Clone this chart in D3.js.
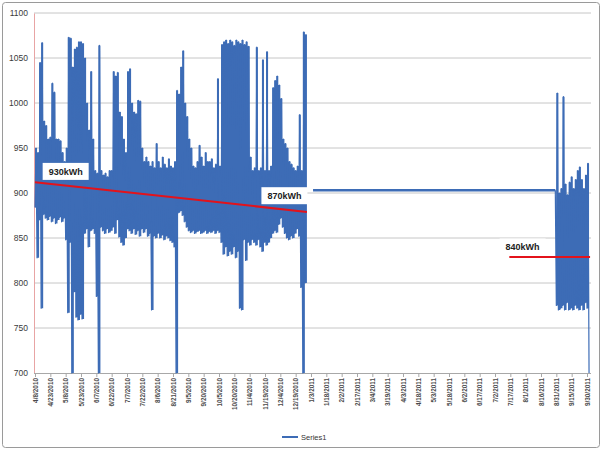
<!DOCTYPE html>
<html>
<head>
<meta charset="utf-8">
<script src="https://cdn.jsdelivr.net/npm/d3@7"></script>
<style>
  body { margin: 0; background: #fff; }
  svg { display: block; font-family: "Liberation Sans", Arial, sans-serif; }
</style>
</head>
<body>
<svg id="chart" width="604" height="454"></svg>
<script>
// tick labels on the date axis (every 15 days)
const tickLabels = ["4/8/2010","4/23/2010","5/8/2010","5/23/2010","6/7/2010","6/22/2010","7/7/2010",
  "7/22/2010","8/6/2010","8/21/2010","9/5/2010","9/20/2010","10/5/2010","10/20/2010","11/4/2010",
  "11/19/2010","12/4/2010","12/19/2010","1/3/2011","1/18/2011","2/2/2011","2/17/2011","3/4/2011",
  "3/19/2011","4/3/2011","4/18/2011","5/3/2011","5/18/2011","6/2/2011","6/17/2011","7/2/2011",
  "7/17/2011","8/1/2011","8/16/2011","8/31/2011","9/15/2011","9/30/2011"];
const yTicks = [700, 750, 800, 850, 900, 950, 1000, 1050, 1100];

// first block: 2-day bins starting 4/8/2010, low / high readings per bin
const seg1Start = "4/8/2010";
const seg1Hi = [950,945,1045,1067,980,975,960,962,1022,1012,960,960,958,945,935,950,1073,1072,1040,1060,
  1062,1068,1068,1066,1050,1000,970,1035,960,925,922,1064,925,920,922,918,925,925,1035,1030,
  1034,990,985,960,945,1035,1038,1000,990,988,1003,1002,950,935,940,935,930,935,928,955,
  935,928,940,932,928,938,930,928,935,1014,1010,1040,1058,1000,985,960,950,930,928,935,
  953,940,930,945,935,935,938,928,932,1027,930,1065,1068,1070,1066,1070,1068,1064,1070,1068,
  1066,1070,1065,1068,1063,940,925,928,1062,925,928,1048,925,1057,925,930,1017,1025,1030,1020,
  1005,960,955,950,935,932,928,925,930,987,925,1079,1076];
const seg1Lo = [884,828,870,772,876,872,870,874,868,872,866,870,873,868,872,848,767,845,700,790,
  762,759,765,760,855,860,840,858,860,855,785,700,862,858,855,860,856,858,862,855,
  870,851,845,842,850,860,858,855,860,854,858,852,860,856,860,852,855,770,852,850,
  855,850,853,848,852,850,847,845,840,700,878,880,875,868,862,858,856,858,855,857,
  858,855,856,858,855,857,856,858,855,858,856,845,832,840,830,835,832,840,828,835,
  772,770,848,825,845,842,848,845,842,848,840,835,845,842,845,850,855,858,856,865,
  872,862,855,850,848,852,850,855,860,852,795,700,800];

// missing period, plotted as a constant value
const flatDates = ["1/5/2011", "8/30/2011"];
const flatValue = 903;

// last block: 2-day bins starting 8/31/2011
const seg3Start = "8/31/2011";
const seg3Hi = [1011,900,905,1007,910,898,912,918,905,915,925,929,915,905,920,933];
const seg3Lo = [775,770,772,775,770,778,770,772,770,775,772,770,775,770,778,772];
const seg3End = {date: "10/2/2011", value: 700};

// trend lines and their labels
const trendA = [{date: "4/8/2010", value: 912}, {date: "12/30/2010", value: 879}];
const trendB = [{date: "7/16/2011", value: 829}, {date: "10/3/2011", value: 829}];
const notes = [
  {text: "930kWh", date: "5/8/2010", value: 924},
  {text: "870kWh", date: "12/8/2010", value: 897},
  {text: "840kWh", date: "7/29/2011", value: 840}
];

const parse = d3.timeParse("%m/%d/%Y");
const blue = "#3d6cb6";

function bins(startStr, lo, hi) {
  const s = parse(startStr);
  return lo.map((v, i) => ({date: d3.timeDay.offset(s, 2 * i), lo: v, hi: hi[i]}));
}
function zigzag(b) {
  const pts = [];
  b.forEach(d => {
    pts.push({date: d.date, value: d.lo});
    pts.push({date: d3.timeDay.offset(d.date, 1), value: d.hi});
  });
  return pts;
}

const bins1 = bins(seg1Start, seg1Lo, seg1Hi);
const bins3 = bins(seg3Start, seg3Lo, seg3Hi);
const seg1 = zigzag(bins1);
const seg3 = zigzag(bins3);
const flat = flatDates.map(d => ({date: parse(d), value: flatValue}));
const tail = [flat[1]].concat(seg3, [{date: parse(seg3End.date), value: seg3End.value}]);

const svg = d3.select("#chart");

svg.append("rect")
  .attr("x", 2.5).attr("y", 2.5)
  .attr("width", 597).attr("height", 445)
  .attr("rx", 3)
  .attr("fill", "#fff")
  .attr("stroke", "#9a9a9a");

const x = d3.scaleTime()
  .domain([parse(tickLabels[0]), parse(tickLabels[tickLabels.length - 1])])
  .range([35, 587]);
const y = d3.scaleLinear().domain([700, 1100]).range([373, 13]);
const plotLeft = 34, plotRight = 591;

// gridlines
svg.append("g")
  .selectAll("line")
  .data(yTicks.filter(d => d > 700))
  .join("line")
  .attr("x1", plotLeft).attr("x2", plotRight)
  .attr("y1", d => y(d)).attr("y2", d => y(d))
  .attr("stroke", "#c6c6c6").attr("stroke-width", 1);

// y axis
const yAxis = d3.axisLeft(y).tickValues(yTicks).tickFormat(d3.format("d")).tickSize(0).tickPadding(6);
const gy = svg.append("g").attr("transform", `translate(${plotLeft},0)`).call(yAxis);
gy.select(".domain").attr("stroke", "#e8a4a4");
gy.selectAll("text").attr("font-size", 8.5).attr("fill", "#3a3a3a");

// x axis
const xAxis = d3.axisBottom(x)
  .tickValues(tickLabels.map(parse))
  .tickFormat(d3.timeFormat("%-m/%-d/%Y"))
  .tickSize(4).tickSizeOuter(0);
const gx = svg.append("g").attr("transform", "translate(0,373)").call(xAxis);
gx.select(".domain").attr("d", `M${plotLeft},0.5H${plotRight}`).attr("stroke", "#a8a8a8");
gx.selectAll(".tick line").attr("stroke", "#a8a8a8");
gx.selectAll("text")
  .attr("font-size", 6.4)
  .attr("font-family", "'Liberation Sans Narrow', 'Liberation Sans', Arial, sans-serif")
  .attr("font-weight", "bold")
  .attr("fill", "#4a4a4a")
  .attr("text-anchor", "end")
  .attr("transform", "rotate(-90)")
  .attr("x", -5).attr("y", 0).attr("dy", "0.32em");

// series: dense readings drawn as a low/high band plus the zigzag trace
const band = d3.area()
  .x(d => x(d.date)).y0(d => y(d.lo)).y1(d => y(d.hi))
  .curve(d3.curveStepAfter);
const line = d3.line().x(d => x(d.date)).y(d => y(d.value));

[bins1, bins3].forEach(b => {
  const last = b[b.length - 1];
  const closed = b.concat([{date: d3.timeDay.offset(last.date, 2), lo: last.lo, hi: last.hi}]);
  svg.append("path").datum(closed)
    .attr("d", band).attr("fill", blue);
});
[seg1, tail].forEach(s => {
  svg.append("path").datum(s)
    .attr("d", line).attr("fill", "none")
    .attr("stroke", blue).attr("stroke-width", 1.2).attr("stroke-linejoin", "round");
});
svg.append("path").datum(flat)
  .attr("d", line).attr("fill", "none")
  .attr("stroke", blue).attr("stroke-width", 2.4);

// trend lines
const tline = d3.line().x(d => x(parse(d.date))).y(d => y(d.value));
[trendA, trendB].forEach(t => {
  svg.append("path").datum(t)
    .attr("d", tline).attr("fill", "none")
    .attr("stroke", "#e3131b").attr("stroke-width", 2);
});

// label boxes
notes.forEach(n => {
  const g = svg.append("g")
    .attr("transform", `translate(${x(parse(n.date))},${y(n.value)})`);
  const box = g.append("rect").attr("fill", "#fff");
  const t = g.append("text")
    .attr("text-anchor", "middle").attr("dy", "0.35em")
    .attr("font-size", 9).attr("font-weight", "bold").attr("fill", "#222")
    .text(n.text);
  const bb = t.node().getBBox();
  box.attr("x", bb.x - 6).attr("y", -8.5).attr("width", bb.width + 12).attr("height", 17);
});

// legend
const lg = svg.append("g").attr("transform", "translate(282,437)");
lg.append("line").attr("x1", 0).attr("x2", 16)
  .attr("stroke", blue).attr("stroke-width", 2);
lg.append("text").attr("x", 19).attr("dy", "0.35em")
  .attr("font-size", 7.5).attr("fill", "#333").text("Series1");
</script>
</body>
</html>
